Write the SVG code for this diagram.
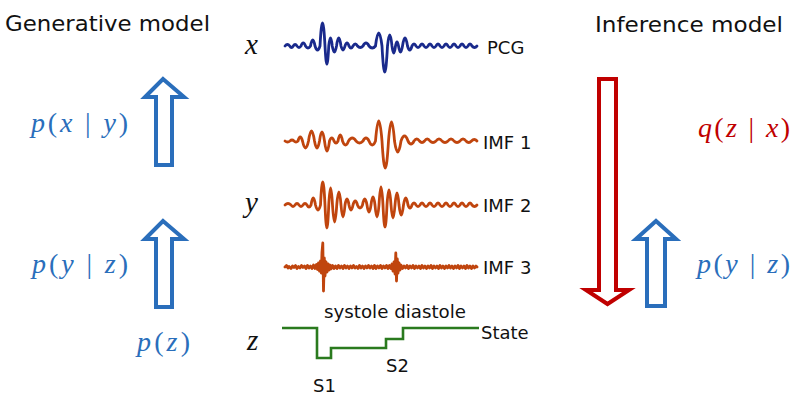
<svg xmlns="http://www.w3.org/2000/svg" width="800" height="400" viewBox="0 0 800 400">
<style>
.title{font-family:"DejaVu Sans","Verdana",sans-serif;font-size:22px;fill:#111}
.lbl{font-family:"DejaVu Sans","Verdana",sans-serif;font-size:18px;fill:#111}
.math{font-family:"Liberation Serif","DejaVu Serif",serif;font-size:28px}
.var{font-family:"Liberation Serif","DejaVu Serif",serif;font-size:29px;font-style:italic;fill:#111}
.it{font-style:italic}
.blue{fill:#2a6ebb}
.red{fill:#c00000}
.wave{fill:none;stroke-width:2.8;stroke-linejoin:round;stroke-linecap:round}
.pcg{stroke:#1a2a8c}
.imf{stroke:#c0450e}
.state{fill:none;stroke:#2a7a1e;stroke-width:2.6}
.barrow{fill:#fff;stroke:#2a6ebb;stroke-width:4;stroke-linejoin:miter}
.rarrow{fill:#fff;stroke:#c00000;stroke-width:4;stroke-linejoin:miter}
</style>
<rect width="800" height="400" fill="#fff"/>

<g id="title-generative"><text class="title" x="5" y="31" textLength="205" lengthAdjust="spacingAndGlyphs">Generative model</text></g>
<g id="title-inference"><text class="title" x="595" y="32" textLength="188" lengthAdjust="spacingAndGlyphs">Inference model</text></g>

<g id="var-x"><text class="var" x="245" y="54">x</text></g>
<g id="var-y"><text class="var" x="245" y="212">y</text></g>
<g id="var-z"><text class="var" x="247" y="350">z</text></g>

<g id="pcg">
<path class="wave pcg" d="M285,46 Q287.4,43 289.75,46 Q291.5,49 293.25,46 Q295.1,43 297,46 Q299,49 301,46 Q303.25,40 305.5,46 Q308,50 310.5,46 Q312.75,34 315,46 Q317.5,54 320,46 Q322.5,0 325,46 Q326.9,82 328.75,46 Q330.5,30 332.25,46 Q334.4,58 336.5,46 Q338.75,30 341,46 Q343,54 345,46 Q347,40 349,46 Q351,50 353,46 Q355.25,42 357.5,46 Q360.25,49 363,46 Q366,40 369,46 Q372.25,50 375.5,46 Q378.75,20 382,46 Q384.75,98 387.5,46 Q389.75,24 392,46 Q393.75,60 395.5,46 Q397,38 398.5,46 Q400.5,58 402.5,46 Q405,30 407.5,46 Q409.75,54 412,46 Q414,42 416,46 Q418,49 420,46 Q422,42 424,46 Q426,49 428,46 Q430,42 432,46 Q434,49 436,46 Q438,42 440,46 Q442,49 444,46 Q446,42 448,46 Q450,49 452,46 Q454,42 456,46 Q458,49 460,46 Q462,42 464,46 Q466,49 468,46 Q470,42 472,46 Q474.5,49 477,46"/>
<text class="lbl" x="487" y="54">PCG</text>
</g>

<g id="imf1">
<path class="wave imf" d="M285,141 Q287.5,143 290,141 Q292,139 294,141 Q296,143 298,141 Q300.25,133 302.5,141 Q305.5,155 308.5,141 Q311.5,121 314.5,141 Q317,155 319.5,141 Q322,123 324.5,141 Q327,161 329.5,141 Q331.75,135 334,141 Q336,145 338,141 Q340.25,129 342.5,141 Q345.5,149 348.5,141 Q352.25,135 356,141 Q359.5,145 363,141 Q366,135 369,141 Q372.25,149 375.5,141 Q378.75,101 382,141 Q385.25,195 388.5,141 Q391.5,103 394.5,141 Q397.75,163 401,141 Q404.5,131 408,141 Q411,147 414,141 Q416.75,137 419.5,141 Q422,144 424.5,141 Q427.25,137 430,141 Q433,144 436,141 Q439,137 442,141 Q445,144 448,141 Q451,137 454,141 Q457,144 460,141 Q463,137 466,141 Q468.75,144 471.5,141 Q474.25,138 477,141"/>
<text class="lbl" x="483" y="149">IMF 1</text>
</g>

<g id="imf2">
<path class="wave imf" d="M285,205 Q288,202 291,205 Q293,208 295,205 Q297,202 299,205 Q301,208 303,205 Q305,202 307,205 Q309,209 311,205 Q313.25,191 315.5,205 Q318,215 320.5,205 Q322.75,159 325,205 Q326.9,251 328.75,205 Q330.6,171 332.5,205 Q334.6,239 336.75,205 Q338.9,179 341,205 Q343,229 345,205 Q347,193 349,205 Q351,215 353,205 Q355.25,197 357.5,205 Q360,211 362.5,205 Q364.75,193 367,205 Q369,219 371,205 Q373,189 375,205 Q377,229 379,205 Q381,169 383,205 Q385,249 387,205 Q389,175 391,205 Q393,231 395,205 Q397,181 399,205 Q401.25,225 403.5,205 Q405.75,191 408,205 Q410,211 412,205 Q414,201 416,205 Q418,208 420,205 Q422,201 424,205 Q426,208 428,205 Q430,201 432,205 Q434,208 436,205 Q438,201 440,205 Q442,208 444,205 Q446,201 448,205 Q450,208 452,205 Q454,201 456,205 Q458,208 460,205 Q462,201 464,205 Q466,208 468,205 Q470,201 472,205 Q474.5,208 477,205"/>
<text class="lbl" x="483" y="212">IMF 2</text>
</g>

<g id="imf3">
<polyline class="wave imf" points="285,267 286.5,265.5 288,268 289,266.5 291,268.5 292.5,266 294,267.5 295.5,265.5 297,268.5 298.5,266.5 300,268 301.5,265.5 303,267.5 304.5,266 306,268.5 307.5,265.5 309,268 310.5,266 312,268.5 313.5,265 315,268.5 316.5,264.5 317.5,269.5 318.5,263 319.5,271 320.5,261 321.3,273 322,252 322.8,243 323.5,291 324.3,258 325,276 326,262 327,272 328,264 329,270 330,265 331,269 332.5,265.5 334,268.5 335.5,266 337,268.5 338.5,265.5 340,268 341.5,266 343,268.5 344.5,265.5 346,268 347.5,266 349,268.5 350.5,266 352,268 353.5,265.5 355,268 356.5,266.5 358,268.5 359.5,265.5 361,268 362.5,266 364,268.5 365.5,266 367,268 368.5,265.5 370,268 371.5,266 373,268.5 374.5,265.5 376,268.5 377.5,266 379,268 380.5,265.5 382,268.5 383.5,266 385,268 386.5,265.5 388,268.5 389.5,265.5 391,268.5 392,264 393,271 394,262 395,274 395.8,253 396.5,281 397.3,259 398,273 399,263 400,270 401,265 402.5,268.5 404,266 405.5,268 407,265.5 408.5,268.5 410,266 411.5,268 413,265.5 414.5,268.5 416,266 417.5,268 419,266 420.5,268.5 422,265.5 423.5,268 425,266 426.5,268.5 428,266 429.5,268 431,265.5 432.5,268.5 434,266 435.5,268 437,266 438.5,268.5 440,265.5 441.5,268 443,266 444.5,268.5 446,266 447.5,268 449,265.5 450.5,268 452,266 453.5,268.5 455,266 456.5,268 458,265.5 459.5,268.5 461,266 462.5,268 464,266 465.5,268.5 467,265.5 468.5,268 470,266 471.5,268.5 473,266 474.5,268 476,266 477,267"/>
<text class="lbl" x="483" y="274">IMF 3</text>
</g>

<g id="state">
<polyline class="state" points="282,328 317,328 317,358 331,358 331,348 386,348 386,339 403,339 403,328 479,328"/>
<text class="lbl" x="324" y="318" textLength="142" lengthAdjust="spacingAndGlyphs">systole diastole</text>
<text class="lbl" x="481" y="339">State</text>
<text class="lbl" x="313" y="392">S1</text>
<text class="lbl" x="386" y="372">S2</text>
</g>

<g id="label-pxy"><text class="math blue" x="31" y="132" textLength="97" lengthAdjust="spacing"><tspan class="it">p</tspan>(<tspan class="it">x</tspan> | <tspan class="it">y</tspan>)</text></g>
<g id="label-pyz-left"><text class="math blue" x="32" y="273" textLength="96" lengthAdjust="spacing"><tspan class="it">p</tspan>(<tspan class="it">y</tspan> | <tspan class="it">z</tspan>)</text></g>
<g id="label-pz"><text class="math blue" x="137" y="351" textLength="53" lengthAdjust="spacing"><tspan class="it">p</tspan>(<tspan class="it">z</tspan>)</text></g>
<g id="label-qzx"><text class="math red" x="698" y="137" textLength="92" lengthAdjust="spacing"><tspan class="it">q</tspan>(<tspan class="it">z</tspan> | <tspan class="it">x</tspan>)</text></g>
<g id="label-pyz-right"><text class="math blue" x="697" y="273" textLength="93" lengthAdjust="spacing"><tspan class="it">p</tspan>(<tspan class="it">y</tspan> | <tspan class="it">z</tspan>)</text></g>

<g id="connectors">
<polygon class="barrow" points="163,79 184,97 172,97 172,165 156,165 156,97 145,97"/>
<polygon class="barrow" points="163,221 184,239 172,239 172,307 156,307 156,239 145,239"/>
<polygon class="rarrow" points="599,79 616,79 616,290 629,290 607.5,304 586,290 599,290"/>
<polygon class="barrow" points="656,221 676,239 665,239 665,306 647,306 647,239 636,239"/>
</g>
</svg>
